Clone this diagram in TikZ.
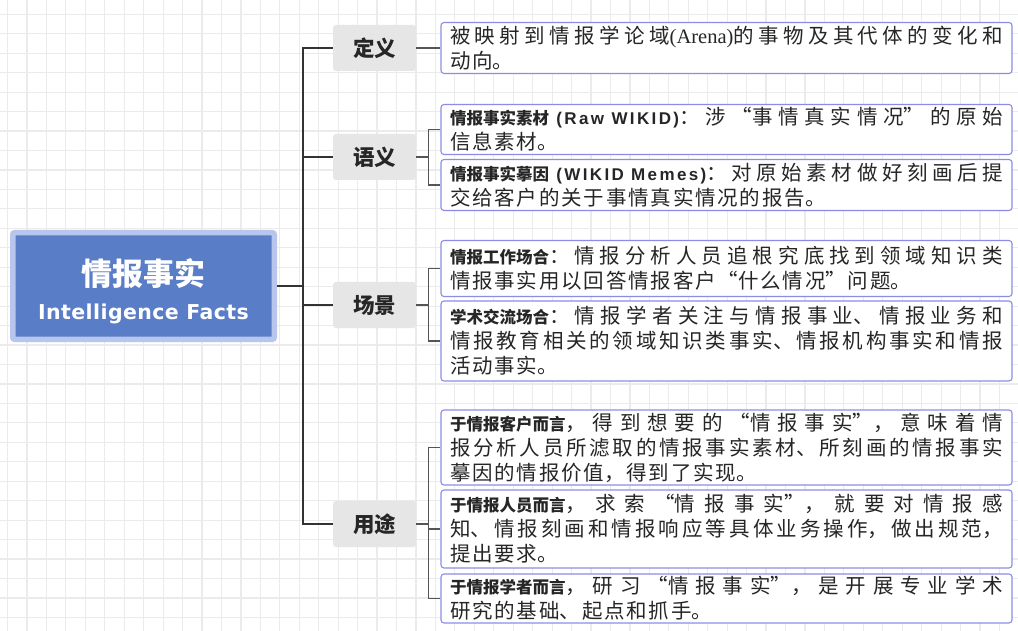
\documentclass[tikz,border=0pt]{standalone}
\usepackage{fontspec}
\usepackage{tikz}
\setmainfont{Liberation Serif}
\newfontfamily\cjk{Noto Sans CJK SC}
\newfontfamily\latsans{Liberation Sans}[LetterSpace=14]
\newfontfamily\latserif{Liberation Serif}
\newfontfamily\latroot{DejaVu Sans}[LetterSpace=2]
\XeTeXlinebreaklocale "zh"
\XeTeXlinebreakskip=1.8pt plus 50pt
\definecolor{rootfill}{HTML}{5A7DC8}
\definecolor{rootedge}{HTML}{B8C5EC}
\definecolor{tagfill}{HTML}{E6E6E6}
\definecolor{leafedge}{HTML}{8C8CE6}
\definecolor{linkdark}{HTML}{333333}
\definecolor{twiggray}{HTML}{555555}
\definecolor{gridgray}{HTML}{EBEBEB}
\definecolor{textdark}{HTML}{262626}
\newcommand{\tagfont}{\cjk\bfseries\fontsize{21.5}{24}\selectfont\XeTeXlinebreakskip=1.5pt\relax}
\newcommand{\rootfont}{\cjk\bfseries\fontsize{31}{34}\selectfont\XeTeXlinebreakskip=1pt\relax}
\newcommand{\gras}[1]{{\bfseries\fontsize{16.5}{25}\selectfont\XeTeXlinebreakskip=0pt\relax #1}}
\newcommand{\grasl}[1]{{\latsans\bfseries\fontsize{17}{25}\selectfont #1}}
\newcommand{\romain}[1]{{\latserif #1}}

\begin{document}
\begin{tikzpicture}[x=1pt,y=-1pt,
  gridline/.style={line width=1.2pt,gridgray},
  rootbox/.style={fill=rootfill,draw=rootedge,line width=5.5pt,rounded corners=2pt,
    minimum width=261.5,minimum height=106.5,inner sep=0pt,text=white,align=center,
    font=\fontsize{20.5}{34}\selectfont},
  tag/.style={fill=tagfill,rounded corners=3pt,minimum width=83,minimum height=46,
    inner sep=0pt,text=textdark,font=\tagfont},
  leaf/.style={draw=leafedge,line width=1.1pt,rounded corners=3pt,fill=white,
    text width=553pt,inner xsep=9pt,inner ysep=1pt,align=justify,text=textdark,
    font=\cjk\fontsize{20.5}{25}\selectfont,execute at begin node={\parindent=0pt}},
  trunk/.style={line width=2.4pt,linkdark},
  twig/.style={line width=1.1pt,twiggray}]
\useasboundingbox (0,0) rectangle (1018,631);
\fill [white] (0,0) rectangle (1018,631);
% Grille
\foreach \i in {0,...,51} \draw [gridline] ({7.5+19.45*\i},0) -- ({7.5+19.45*\i},631);
\foreach \j in {0,...,31} \draw [gridline] (0,{14.4+19.45*\j}) -- (1018,{14.4+19.45*\j});
% Noeuds
\draw (143.5,286) node [rootbox] (root) {{\rootfont\rule{0pt}{37pt}情报事实}\\{\latroot\bfseries Intelligence Facts}};
\draw (374.5,48) node [tag] (def) {定义};
\draw (374.5,157) node [tag] (sem) {语义};
\draw (374.5,305) node [tag] (sce) {场景};
\draw (374.5,524) node [tag] (use) {用途};
\draw (726.5,48) node [leaf,minimum height=51] (d1) {被映射到情报学论域\romain{(Arena)}的事物及其代体的变化和\linebreak 动向。};
\draw (726.5,129.5) node [leaf,minimum height=50] (s1) {\gras{情报事实素材}\grasl{ (Raw WIKID)}：涉“事情真实情况”的原始\linebreak 信息素材。};
\draw (726.5,185) node [leaf,minimum height=51] (s2) {\gras{情报事实摹因}\grasl{ (WIKID Memes)}：对原始素材做好刻画后提\linebreak 交给客户的关于事情真实情况的报告。};
\draw (726.5,268.5) node [leaf,minimum height=56] (c1) {\gras{情报工作场合}：情报分析人员追根究底找到领域知识类\linebreak 情报事实用以回答情报客户“什么情况”问题。};
\draw (726.5,341) node [leaf,minimum height=80] (c2) {\gras{学术交流场合}：情报学者关注与情报事业、情报业务和\linebreak 情报教育相关的领域知识类事实、情报机构事实和情报\linebreak 活动事实。};
\draw (726.5,447.5) node [leaf,minimum height=75] (u1) {\gras{于情报客户而言}，得到想要的“情报事实”，意味着情\linebreak 报分析人员所滤取的情报事实素材、所刻画的情报事实\linebreak 摹因的情报价值，得到了实现。};
\draw (726.5,529) node [leaf,minimum height=78] (u2) {\gras{于情报人员而言}，求索“情报事实”，就要对情报感\linebreak 知、情报刻画和情报响应等具体业务操作，做出规范，\linebreak 提出要求。};
\draw (726.5,598.5) node [leaf,minimum height=49] (u3) {\gras{于情报学者而言}，研习“情报事实”，是开展专业学术\linebreak 研究的基础、起点和抓手。};
% Liens
\coordinate (tk) at (303,286);
\coordinate (bs) at (428.5,157);
\coordinate (bc) at (428.5,305);
\coordinate (bu) at (428.5,524);
\draw [trunk] (root.east) -- (tk);
\foreach \n in {def,sem,sce,use} \draw [trunk] (tk) |- (\n.west);
\draw [twig] (def.east) -- (d1.west);
\draw [twig] (sem.east) -- (bs);
\foreach \n in {s1,s2} \draw [twig] (bs) |- (\n.west);
\draw [twig] (sce.east) -- (bc);
\foreach \n in {c1,c2} \draw [twig] (bc) |- (\n.west);
\draw [twig] (use.east) -- (bu);
\foreach \n in {u1,u2,u3} \draw [twig] (bu) |- (\n.west);
\end{tikzpicture}
\end{document}
